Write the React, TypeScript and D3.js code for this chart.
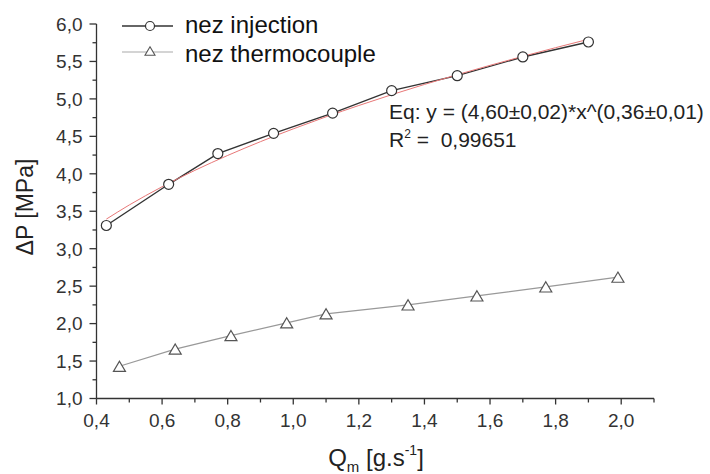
import React from "react";
import * as d3 from "d3";

const injX = [0.43, 0.62, 0.77, 0.94, 1.12, 1.30, 1.50, 1.70, 1.90];
const injY = [3.31, 3.86, 4.27, 4.54, 4.81, 5.11, 5.31, 5.56, 5.76];
const thermoX = [0.47, 0.64, 0.81, 0.98, 1.10, 1.35, 1.56, 1.77, 1.99];
const thermoY = [1.43, 1.66, 1.84, 2.01, 2.13, 2.25, 2.37, 2.49, 2.62];
const fitX = [0.43, 0.5, 0.6, 0.7, 0.8, 0.9, 1.0, 1.1, 1.2, 1.3, 1.4, 1.5, 1.6, 1.7, 1.8, 1.9];
const fitY = [3.395, 3.584, 3.827, 4.046, 4.245, 4.429, 4.6, 4.761, 4.912, 5.056, 5.193, 5.323, 5.448, 5.568, 5.684, 5.796];
const xTicks = [0.4, 0.6, 0.8, 1.0, 1.2, 1.4, 1.6, 1.8, 2.0];
const xMinor = [0.5, 0.7, 0.9, 1.1, 1.3, 1.5, 1.7, 1.9, 2.1];
const yTicks = [1.0, 1.5, 2.0, 2.5, 3.0, 3.5, 4.0, 4.5, 5.0, 5.5, 6.0];
const yMinor = [1.25, 1.75, 2.25, 2.75, 3.25, 3.75, 4.25, 4.75, 5.25, 5.75];
const legendLabels = ["nez injection", "nez thermocouple"];
const eqText = "Eq: y = (4,60±0,02)*x^(0,36±0,01)";
const r2Value = "0,99651";

const fmt = (v: number) => v.toFixed(1).replace(".", ",");

export default function App() {
  const x = d3.scaleLinear().domain([0.4, 2.1]).range([96.5, 654]);
  const y = d3.scaleLinear().domain([1, 6]).range([398.5, 24]);
  const line = d3.line<[number, number]>().x((d) => x(d[0])).y((d) => y(d[1]));
  const fitLine = d3
    .line<[number, number]>()
    .x((d) => x(d[0]))
    .y((d) => y(d[1]))
    .curve(d3.curveMonotoneX);
  const inj = injX.map((v, i) => [v, injY[i]] as [number, number]);
  const thr = thermoX.map((v, i) => [v, thermoY[i]] as [number, number]);
  const fit = fitX.map((v, i) => [v, fitY[i]] as [number, number]);
  const tri = (cx: number, cy: number, w: number) => {
    const h = w * 0.85;
    return `M${cx},${cy - h / 2}L${cx + w / 2},${cy + h / 2}L${cx - w / 2},${cy + h / 2}Z`;
  };
  const font = "Liberation Sans, Arial, sans-serif";
  const x0 = x(0.4);
  const yb = y(1);
  return (
    <svg
      width={710}
      height={474}
      style={{ position: "absolute", left: 0, top: 0, background: "#fff" }}
      fontFamily={font}
    >
      <rect width={710} height={474} fill="#fff" />
      {/* axes */}
      <g stroke="#333" strokeWidth={1.3} fill="none">
        <line x1={x0} x2={x0} y1={y(6)} y2={yb} />
        <line x1={x0} x2={x(2.1)} y1={yb} y2={yb} />
        {yTicks.map((t) => (
          <line key={"yt" + t} x1={x0 - 7} x2={x0} y1={y(t)} y2={y(t)} />
        ))}
        {yMinor.map((t) => (
          <line key={"ym" + t} x1={x0 - 4} x2={x0} y1={y(t)} y2={y(t)} />
        ))}
        {xTicks.map((t) => (
          <line key={"xt" + t} x1={x(t)} x2={x(t)} y1={yb} y2={yb + 6} />
        ))}
        {xMinor.map((t) => (
          <line key={"xm" + t} x1={x(t)} x2={x(t)} y1={yb} y2={yb + 4} />
        ))}
      </g>
      <g fill="#333" fontSize={19}>
        {yTicks.map((t) => (
          <text key={"yl" + t} x={x0 - 14} y={y(t)} dy="0.36em" textAnchor="end">
            {fmt(t)}
          </text>
        ))}
        {xTicks.map((t) => (
          <text key={"xl" + t} x={x(t)} y={yb + 28} textAnchor="middle">
            {fmt(t)}
          </text>
        ))}
      </g>
      {/* axis titles */}
      <text
        transform={`translate(33,207) rotate(-90)`}
        textAnchor="middle"
        fontSize={23}
        fill="#222"
      >
        ΔP [MPa]
      </text>
      <text x={376} y={466} textAnchor="middle" fontSize={24} fill="#222">
        Q<tspan fontSize={15} dy={6}>m</tspan>
        <tspan dy={-6}>{"\u00a0[g.s"}</tspan>
        <tspan fontSize={14} dy={-11}>-1</tspan>
        <tspan dy={11}>]</tspan>
      </text>
      {/* thermocouple series */}
      <path d={line(thr) || ""} fill="none" stroke="#999" strokeWidth={1.2} />
      {thr.map((d, i) => (
        <path key={"tr" + i} d={tri(x(d[0]), y(d[1]), 12)} fill="#fff" stroke="#555" strokeWidth={1.2} />
      ))}
      {/* injection series */}
      <path d={line(inj) || ""} fill="none" stroke="#333" strokeWidth={1.4} />
      <path d={fitLine(fit) || ""} fill="none" stroke="#e87878" strokeWidth={1} />
      {inj.map((d, i) => (
        <circle key={"c" + i} cx={x(d[0])} cy={y(d[1])} r={5} fill="#fff" stroke="#333" strokeWidth={1.2} />
      ))}
      {/* legend */}
      <g>
        <line x1={122} x2={173} y1={26} y2={26} stroke="#333" strokeWidth={1.3} />
        <circle cx={150} cy={26} r={4.5} fill="#fff" stroke="#333" strokeWidth={1.2} />
        <text x={185} y={33} fontSize={24} fill="#111">
          {legendLabels[0]}
        </text>
        <line x1={122} x2={173} y1={52} y2={52} stroke="#aaa" strokeWidth={1.2} />
        <path d={tri(150, 51, 10)} fill="#fff" stroke="#555" strokeWidth={1.1} />
        <text x={185} y={62} fontSize={24} fill="#111">
          {legendLabels[1]}
        </text>
      </g>
      {/* equation */}
      <g fontSize={21} fill="#222">
        <text x={389} y={119}>{eqText}</text>
        <text x={389} y={147}>
          R<tspan fontSize={12} dy={-9}>2</tspan>
          <tspan dy={9}>{"\u00a0=\u00a0\u00a0" + r2Value}</tspan>
        </text>
      </g>
    </svg>
  );
}
